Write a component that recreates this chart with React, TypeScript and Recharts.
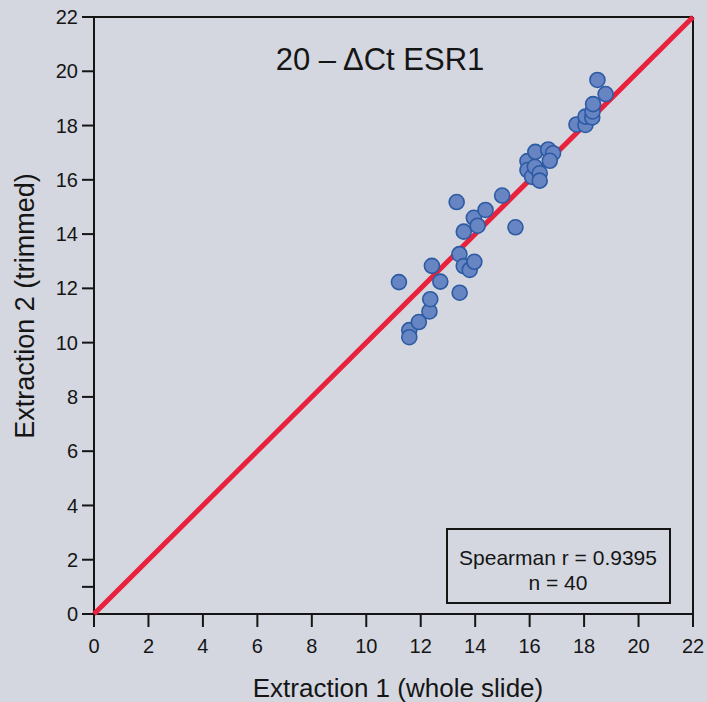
import React from 'react';
import { ScatterChart, Scatter, XAxis, YAxis, ReferenceLine, Customized } from 'recharts';

const extraction1 = [11.2, 11.58, 11.58, 11.93, 12.32, 12.35, 12.41, 12.72, 13.43, 13.42, 13.58, 13.8, 13.97, 13.58, 13.32, 13.95, 14.09, 14.38, 14.99, 15.48, 15.92, 15.92, 16.09, 16.19, 16.37, 16.37, 16.21, 16.68, 16.86, 16.74, 17.72, 18.05, 18.05, 18.3, 18.31, 18.33, 18.49, 18.79];
const extraction2 = [12.23, 10.46, 10.2, 10.76, 11.15, 11.6, 12.83, 12.25, 11.84, 13.26, 12.82, 12.68, 12.98, 14.09, 15.18, 14.6, 14.31, 14.89, 15.42, 14.25, 16.69, 16.36, 16.11, 16.48, 16.24, 15.97, 17.03, 17.12, 16.98, 16.7, 18.04, 18.02, 18.33, 18.3, 18.52, 18.79, 19.68, 19.16];
const xTicks = [0, 2, 4, 6, 8, 10, 12, 14, 16, 18, 20, 22];
const yTicks = [0, 1, 2, 4, 6, 8, 10, 12, 14, 16, 18, 20, 22];
const identityEnds = [0, 22];
const titleText = '20 – ΔCt ESR1';
const xLabel = 'Extraction 1 (whole slide)';
const yLabel = 'Extraction 2 (trimmed)';
const statsLines = ['Spearman r = 0.9395', 'n = 40'];

const points = extraction1.map((x, i) => ({ x, y: extraction2[i] }));
const identity = identityEnds.map((v) => ({ x: v, y: v }));

const BG = '#d4d7e0';
const INK = '#151515';
const FONT = '"Liberation Sans", Arial, sans-serif';

const Dot = (props: any) => {
  const { cx, cy } = props;
  if (cx == null || cy == null) return <g />;
  return <circle cx={cx} cy={cy} r={7.5} fill="#6784c3" stroke="#2c5ba3" strokeWidth={1.6} />;
};

const NoDot = () => <g />;

const Annotations = () => (
  <g fontFamily={FONT} fill={INK}>
    <text x={380} y={70} textAnchor="middle" fontSize={31}>{titleText}</text>
    <rect x={447} y={529} width={223} height={74} fill={BG} stroke={INK} strokeWidth={2} />
    <text x={558} y={565} textAnchor="middle" fontSize={21}>{statsLines[0]}</text>
    <text x={558} y={590} textAnchor="middle" fontSize={21}>{statsLines[1]}</text>
    <text x={398} y={697} textAnchor="middle" fontSize={26}>{xLabel}</text>
    <text x={34} y={306} textAnchor="middle" fontSize={27} transform="rotate(-90 34 306)">{yLabel}</text>
  </g>
);

export default function App() {
  return (
    <div style={{ position: 'absolute', left: 0, top: 0, width: 707, height: 702, background: BG }}>
      <ScatterChart width={707} height={702} margin={{ top: 17, right: 14, left: 34, bottom: 28 }}>
        <XAxis
          type="number"
          dataKey="x"
          domain={[0, 22]}
          ticks={xTicks}
          interval={0}
          axisLine={{ stroke: INK, strokeWidth: 2 }}
          tickLine={{ stroke: INK, strokeWidth: 2 }}
          tickSize={13}
          tickMargin={12}
          height={60}
          tick={{ fill: INK, fontSize: 20, fontFamily: FONT }}
        />
        <YAxis
          type="number"
          dataKey="y"
          domain={[0, 22]}
          ticks={yTicks}
          interval={0}
          tickFormatter={(v: number) => (v === 1 ? '' : String(v))}
          axisLine={{ stroke: INK, strokeWidth: 2 }}
          tickLine={{ stroke: INK, strokeWidth: 2 }}
          tickSize={12}
          tickMargin={4}
          width={60}
          tick={{ fill: INK, fontSize: 20, fontFamily: FONT }}
        />
        <ReferenceLine y={22} stroke={INK} strokeWidth={2} />
        <ReferenceLine x={22} stroke={INK} strokeWidth={2} />
        <Scatter
          data={identity}
          line={{ stroke: '#e8213c', strokeWidth: 5 }}
          lineType="joint"
          shape={NoDot}
          isAnimationActive={false}
        />
        <Scatter data={points} shape={Dot} isAnimationActive={false} />
        <Customized component={Annotations} />
      </ScatterChart>
    </div>
  );
}
